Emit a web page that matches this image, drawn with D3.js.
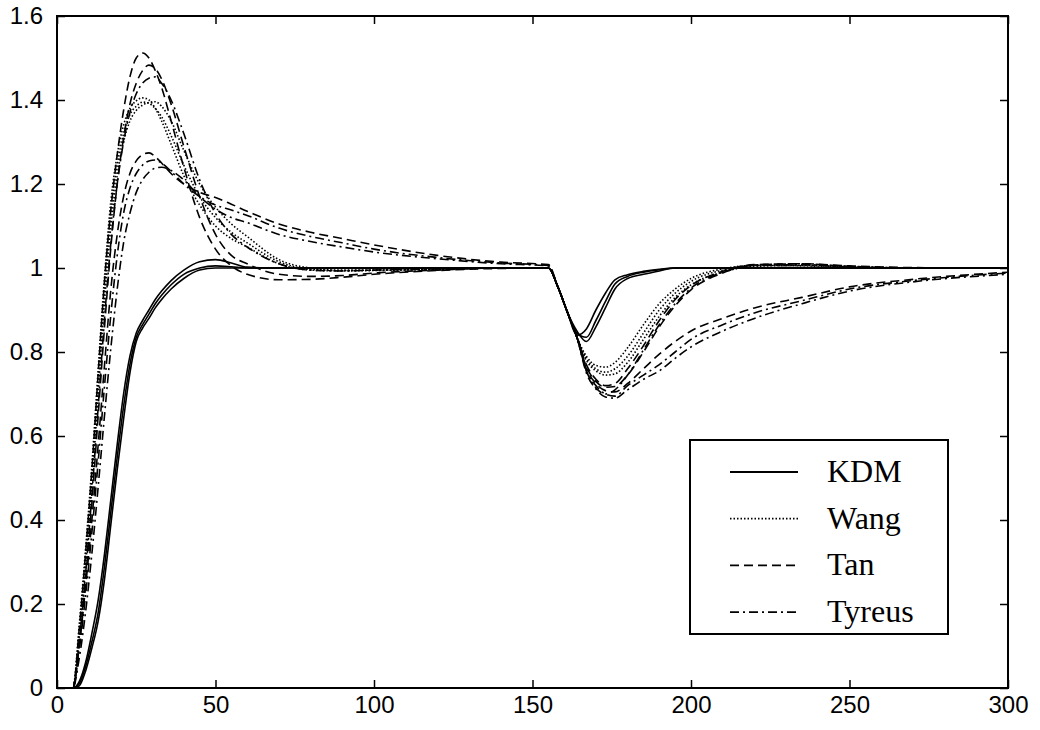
<!DOCTYPE html>
<html>
<head>
<meta charset="utf-8">
<script src="https://cdn.jsdelivr.net/npm/d3@7"></script>
<style>
  body { margin: 0; background: #fff; }
  svg { display: block; }
</style>
</head>
<body>
<script>
// sample times (shared by every curve)
var times = [0, 5, 7, 9, 11, 13, 15, 17, 19, 21,
  23, 25, 27, 29, 31, 33, 36, 40, 45, 50,
  55, 60, 70, 80, 90, 100, 120, 140, 155, 158,
  161, 164, 167, 170, 173, 176, 180, 185, 190, 195,
  200, 210, 220, 235, 250, 270, 300];

// KDM (solid)
var kdm1 = [0, 0, 0.015, 0.06, 0.13, 0.21, 0.32, 0.45, 0.58, 0.70,
  0.79, 0.845, 0.875, 0.9, 0.925, 0.945, 0.97, 0.995, 1.015, 1.02,
  1.012, 1.002, 1.0, 1.0, 1.0, 1.0, 1.0, 1.0, 1.0, 0.955,
  0.895, 0.84, 0.855, 0.9, 0.94, 0.972, 0.984, 0.992, 0.997, 1.0,
  1.0, 1.0, 1.0, 1.0, 1.0, 1.0, 1.0];
var kdm2 = [0, 0, 0.01, 0.05, 0.11, 0.18, 0.29, 0.42, 0.55, 0.67,
  0.77, 0.835, 0.865, 0.89, 0.915, 0.935, 0.96, 0.985, 1.0, 1.005,
  1.003, 1.0, 1.0, 1.0, 1.0, 1.0, 1.0, 1.0, 1.0, 0.955,
  0.895, 0.845, 0.835, 0.875, 0.92, 0.962, 0.98, 0.99, 0.996, 1.0,
  1.0, 1.0, 1.0, 1.0, 1.0, 1.0, 1.0];
var kdm3 = [0, 0, 0.005, 0.04, 0.095, 0.16, 0.26, 0.39, 0.52, 0.64,
  0.75, 0.825, 0.857, 0.88, 0.905, 0.925, 0.95, 0.975, 0.995, 1.0,
  1.0, 1.0, 1.0, 1.0, 1.0, 1.0, 1.0, 1.0, 1.0, 0.955,
  0.895, 0.85, 0.825, 0.86, 0.905, 0.95, 0.975, 0.985, 0.993, 1.0,
  1.0, 1.0, 1.0, 1.0, 1.0, 1.0, 1.0];

// Wang (dotted)
var wang1 = [0, 0, 0.15, 0.33, 0.53, 0.76, 0.98, 1.16, 1.27, 1.34,
  1.38, 1.398, 1.405, 1.40, 1.38, 1.35, 1.295, 1.22, 1.15, 1.10,
  1.07, 1.05, 1.01, 0.995, 0.993, 0.994, 0.997, 1.0, 1.0, 0.955,
  0.895, 0.835, 0.79, 0.768, 0.764, 0.775, 0.81, 0.865, 0.915, 0.95,
  0.975, 0.998, 1.006, 1.005, 1.002, 1.0, 1.0];
var wang2 = [0, 0, 0.12, 0.29, 0.48, 0.70, 0.92, 1.10, 1.22, 1.30,
  1.35, 1.375, 1.388, 1.394, 1.396, 1.385, 1.35, 1.28, 1.20, 1.145,
  1.105, 1.075, 1.02, 1.0, 0.995, 0.995, 0.997, 1.0, 1.0, 0.955,
  0.895, 0.835, 0.785, 0.76, 0.752, 0.76, 0.79, 0.845, 0.9, 0.94,
  0.968, 0.995, 1.006, 1.006, 1.003, 1.0, 1.0];
var wang3 = [0, 0, 0.13, 0.31, 0.5, 0.73, 0.95, 1.13, 1.245, 1.32,
  1.365, 1.385, 1.395, 1.392, 1.38, 1.36, 1.315, 1.245, 1.17, 1.12,
  1.085, 1.06, 1.015, 0.997, 0.994, 0.995, 0.997, 1.0, 1.0, 0.955,
  0.895, 0.835, 0.78, 0.755, 0.745, 0.748, 0.775, 0.83, 0.885, 0.93,
  0.96, 0.99, 1.004, 1.006, 1.003, 1.0, 1.0];

// Tan (dashed)
var tan1 = [0, 0, 0.14, 0.32, 0.52, 0.75, 0.97, 1.14, 1.27, 1.375,
  1.455, 1.50, 1.512, 1.50, 1.47, 1.43, 1.35, 1.24, 1.12, 1.045,
  1.005, 0.985, 0.972, 0.973, 0.978, 0.985, 0.994, 0.999, 1.0, 0.955,
  0.895, 0.835, 0.77, 0.735, 0.72, 0.725, 0.76, 0.815, 0.875, 0.925,
  0.958, 0.992, 1.008, 1.01, 1.004, 1.0, 1.0];
var tan2 = [0, 0, 0.1, 0.26, 0.44, 0.65, 0.86, 1.05, 1.2, 1.31,
  1.39, 1.44, 1.47, 1.483, 1.475, 1.45, 1.39, 1.29, 1.17, 1.08,
  1.03, 1.01, 0.985, 0.98, 0.982, 0.988, 0.995, 1.0, 1.0, 0.955,
  0.895, 0.835, 0.765, 0.73, 0.716, 0.718, 0.745, 0.8, 0.86, 0.91,
  0.948, 0.988, 1.007, 1.01, 1.005, 1.001, 1.0];
var tan3 = [0, 0, 0.1, 0.24, 0.4, 0.58, 0.77, 0.95, 1.08, 1.17,
  1.225, 1.255, 1.27, 1.274, 1.265, 1.25, 1.225, 1.2, 1.18, 1.168,
  1.152, 1.135, 1.105, 1.085, 1.07, 1.055, 1.03, 1.014, 1.008, 0.955,
  0.895, 0.835, 0.76, 0.725, 0.708, 0.705, 0.725, 0.76, 0.795, 0.825,
  0.85, 0.88, 0.905, 0.93, 0.955, 0.973, 0.99];

// Tyreus (dash-dot)
var tyreus1 = [0, 0, 0.11, 0.27, 0.46, 0.67, 0.88, 1.06, 1.2, 1.3,
  1.37, 1.415, 1.44, 1.452, 1.455, 1.44, 1.4, 1.32, 1.21, 1.13,
  1.08, 1.05, 1.01, 0.995, 0.993, 0.995, 0.998, 1.0, 1.0, 0.955,
  0.895, 0.835, 0.755, 0.715, 0.7, 0.71, 0.745, 0.805, 0.865, 0.915,
  0.952, 0.99, 1.006, 1.008, 1.003, 1.0, 1.0];
var tyreus2 = [0, 0, 0.09, 0.22, 0.37, 0.54, 0.72, 0.89, 1.03, 1.13,
  1.19, 1.225, 1.245, 1.255, 1.257, 1.25, 1.23, 1.2, 1.17, 1.15,
  1.138, 1.125, 1.095, 1.075, 1.06, 1.045, 1.025, 1.012, 1.006, 0.955,
  0.895, 0.835, 0.755, 0.72, 0.7, 0.695, 0.72, 0.745, 0.77, 0.8,
  0.83, 0.865, 0.893, 0.922, 0.95, 0.97, 0.988];
var tyreus3 = [0, 0, 0.07, 0.18, 0.32, 0.48, 0.65, 0.81, 0.95, 1.06,
  1.13, 1.18, 1.21, 1.228, 1.238, 1.24, 1.232, 1.21, 1.17, 1.14,
  1.12, 1.108, 1.08, 1.063, 1.05, 1.038, 1.022, 1.01, 1.005, 0.955,
  0.895, 0.835, 0.75, 0.712, 0.693, 0.69, 0.71, 0.735, 0.755, 0.785,
  0.812, 0.85, 0.88, 0.915, 0.945, 0.967, 0.985];

var xTicks = [0, 50, 100, 150, 200, 250, 300];
var yTicks = [0, 0.2, 0.4, 0.6, 0.8, 1, 1.2, 1.4, 1.6];
var yTickLabels = ['0', '0.2', '0.4', '0.6', '0.8', '1', '1.2', '1.4', '1.6'];

var legendNames = ['KDM', 'Wang', 'Tan', 'Tyreus'];
var legendDash = [null, '1.5,2', '9,5', '9,4,2,4'];

var series = [
  {name: 'KDM', values: kdm1}, {name: 'KDM', values: kdm2}, {name: 'KDM', values: kdm3},
  {name: 'Wang', values: wang1}, {name: 'Wang', values: wang2}, {name: 'Wang', values: wang3},
  {name: 'Tan', values: tan1}, {name: 'Tan', values: tan2}, {name: 'Tan', values: tan3},
  {name: 'Tyreus', values: tyreus1}, {name: 'Tyreus', values: tyreus2}, {name: 'Tyreus', values: tyreus3}
];

var width = 1040, height = 730;
var plotLeft = 57, plotRight = 1008, plotTop = 16, plotBottom = 688;

var svg = d3.select('body').append('svg')
  .attr('width', width)
  .attr('height', height);

var x = d3.scaleLinear().domain([0, 300]).range([plotLeft, plotRight]);
var y = d3.scaleLinear().domain([0, 1.6]).range([plotBottom, plotTop]);

svg.append('clipPath').attr('id', 'plot')
  .append('rect')
  .attr('x', plotLeft).attr('y', plotTop)
  .attr('width', plotRight - plotLeft).attr('height', plotBottom - plotTop);

var line = d3.line()
  .x(function(d, i) { return x(times[i]); })
  .y(function(d) { return y(d); })
  .curve(d3.curveMonotoneX);

var dashOf = function(name) { return legendDash[legendNames.indexOf(name)]; };

svg.append('g')
  .attr('clip-path', 'url(#plot)')
  .selectAll('path')
  .data(series)
  .enter().append('path')
  .attr('d', function(d) { return line(d.values); })
  .attr('fill', 'none')
  .attr('stroke', '#000')
  .attr('stroke-width', 1.6)
  .attr('stroke-dasharray', function(d) { return dashOf(d.name); });

// axes with inward ticks on all four sides
var fontAxis = 'Liberation Sans, Arial, Helvetica, sans-serif';

var gx = svg.append('g')
  .attr('transform', 'translate(0,' + plotBottom + ')')
  .call(d3.axisBottom(x).tickValues(xTicks).tickSize(-8).tickPadding(8)
    .tickFormat(d3.format('d')));
var gy = svg.append('g')
  .attr('transform', 'translate(' + plotLeft + ',0)')
  .call(d3.axisLeft(y).tickValues(yTicks).tickSize(-8).tickPadding(14)
    .tickFormat(function(d, i) { return yTickLabels[i]; }));
var gt = svg.append('g')
  .attr('transform', 'translate(0,' + plotTop + ')')
  .call(d3.axisTop(x).tickValues(xTicks).tickSize(-8).tickFormat(''));
var gr = svg.append('g')
  .attr('transform', 'translate(' + plotRight + ',0)')
  .call(d3.axisRight(y).tickValues(yTicks).tickSize(-8).tickFormat(''));

[gx, gy, gt, gr].forEach(function(g) {
  g.select('.domain').remove();
  g.selectAll('line').attr('stroke', '#000').attr('stroke-width', 1.5);
  g.selectAll('text')
    .attr('fill', '#000')
    .style('font-family', fontAxis)
    .style('font-size', '24px');
});

svg.append('rect')
  .attr('x', plotLeft).attr('y', plotTop)
  .attr('width', plotRight - plotLeft).attr('height', plotBottom - plotTop)
  .attr('fill', 'none')
  .attr('stroke', '#000')
  .attr('stroke-width', 2);

// legend
var legend = svg.append('g');
legend.append('rect')
  .attr('x', 690).attr('y', 440)
  .attr('width', 258).attr('height', 194)
  .attr('fill', '#fff')
  .attr('stroke', '#000')
  .attr('stroke-width', 2);

var rows = legend.selectAll('g.row')
  .data(legendNames)
  .enter().append('g')
  .attr('class', 'row')
  .attr('transform', function(d, i) { return 'translate(0,' + (472 + i * 46.7) + ')'; });

rows.append('line')
  .attr('x1', 730).attr('x2', 798)
  .attr('stroke', '#000')
  .attr('stroke-width', 1.8)
  .attr('stroke-dasharray', function(d, i) { return legendDash[i]; });

rows.append('text')
  .attr('x', 827).attr('y', 10)
  .text(function(d) { return d; })
  .style('font-family', 'Liberation Serif, Times New Roman, serif')
  .style('font-size', '32px');
</script>
</body>
</html>
